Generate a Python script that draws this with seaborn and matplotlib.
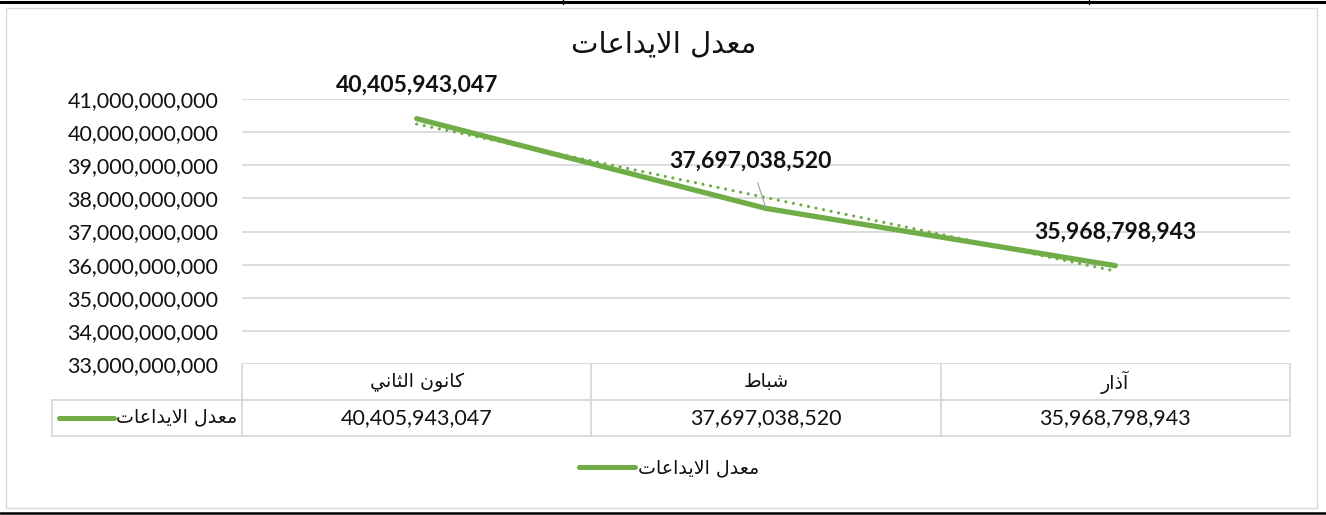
import numpy as np
import pandas as pd
import matplotlib
matplotlib.use("Agg")
import matplotlib.pyplot as plt
from matplotlib.lines import Line2D
from matplotlib.patches import Rectangle
from matplotlib.transforms import blended_transform_factory
from matplotlib.ticker import FuncFormatter
import seaborn as sns

# ---------------- data ----------------
months = ["كانون الثاني", "شباط", "آذار"]
deposits = [40405943047, 37697038520, 35968798943]
series_name = "معدل الايداعات"
chart_title = "معدل الايداعات"
y_ticks = [33e9, 34e9, 35e9, 36e9, 37e9, 38e9, 39e9, 40e9, 41e9]

# ------------- minimal Arabic shaping (matplotlib has no bidi/shaping) -------------
FORMS = {
    'ا': ('\uFE8D', '\uFE8E', None, None),
    'آ': ('\uFE81', '\uFE82', None, None),
    'ب': ('\uFE8F', '\uFE90', '\uFE91', '\uFE92'),
    'ت': ('\uFE95', '\uFE96', '\uFE97', '\uFE98'),
    'ث': ('\uFE99', '\uFE9A', '\uFE9B', '\uFE9C'),
    'د': ('\uFEA9', '\uFEAA', None, None),
    'ذ': ('\uFEAB', '\uFEAC', None, None),
    'ر': ('\uFEAD', '\uFEAE', None, None),
    'ش': ('\uFEB5', '\uFEB6', '\uFEB7', '\uFEB8'),
    'ط': ('\uFEC1', '\uFEC2', '\uFEC3', '\uFEC4'),
    'ع': ('\uFEC9', '\uFECA', '\uFECB', '\uFECC'),
    'ك': ('\uFED9', '\uFEDA', '\uFEDB', '\uFEDC'),
    'ل': ('\uFEDD', '\uFEDE', '\uFEDF', '\uFEE0'),
    'م': ('\uFEE1', '\uFEE2', '\uFEE3', '\uFEE4'),
    'ن': ('\uFEE5', '\uFEE6', '\uFEE7', '\uFEE8'),
    'و': ('\uFEED', '\uFEEE', None, None),
    'ي': ('\uFEF1', '\uFEF2', '\uFEF3', '\uFEF4'),
}
LAM_ALEF = {'ا': ('\uFEFB', '\uFEFC'), 'آ': ('\uFEF5', '\uFEF6')}


def dual(c):
    return c in FORMS and FORMS[c][2] is not None


def shape(text):
    out = []
    i = 0
    n = len(text)
    while i < n:
        c = text[i]
        if c not in FORMS:
            out.append(c)
            i += 1
            continue
        prev_joins = i > 0 and dual(text[i - 1])
        if c == 'ل' and i + 1 < n and text[i + 1] in LAM_ALEF:
            iso, fin = LAM_ALEF[text[i + 1]]
            out.append(fin if prev_joins else iso)
            i += 2
            continue
        next_joins = dual(c) and i + 1 < n and text[i + 1] in FORMS
        iso, fin, ini, med = FORMS[c]
        if prev_joins and next_joins:
            out.append(med)
        elif prev_joins:
            out.append(fin)
        elif next_joins:
            out.append(ini)
        else:
            out.append(iso)
        i += 1
    return ''.join(reversed(out))


# ---------------- figure ----------------
W, H = 1326, 515
sns.set_theme(style="white")
plt.rcParams['font.family'] = ['Lato', 'DejaVu Sans']
AR = ['DejaVu Sans']
GREEN = '#70AD47'
GRID = '#D9D9D9'
TXT = '#111111'
AR_SIZE = 13.7

fig = plt.figure(figsize=(W / 100, H / 100), dpi=100)
fig.patch.set_facecolor('white')


def fx(px):
    return px / W


def fy(py):
    return 1 - py / H


# outer sheet borders / chart area border
fig.add_artist(Line2D([0, 1], [fy(1.5), fy(1.5)], color='black', lw=2.2))
fig.add_artist(Line2D([0, 1], [fy(513), fy(513)], color='black', lw=1.8))
for xv in (563, 1089):
    fig.add_artist(Line2D([fx(xv), fx(xv)], [fy(0), fy(4)], color='black', lw=1.0))
fig.add_artist(Rectangle((fx(6), fy(508)), fx(1317) - fx(6), fy(8) - fy(508),
                         transform=fig.transFigure, fill=False, ec=GRID, lw=1.0))

# plot area
top_px, bot_px, left_px, right_px = 99, 364, 242, 1290
ax = fig.add_axes([fx(left_px), fy(bot_px), fx(right_px - left_px), (bot_px - top_px) / H])
ax.set_facecolor('none')

df = pd.DataFrame({"pos": np.arange(len(months)), "value": deposits})
sns.lineplot(data=df, x="pos", y="value", color=GREEN, lw=3.8, ax=ax,
             solid_capstyle='round', solid_joinstyle='round', zorder=3)
coef = np.polyfit(df["pos"], df["value"], 1)
trend = np.polyval(coef, df["pos"])
ax.plot(df["pos"], trend, color=GREEN, lw=2.3, ls=(0, (0.01, 2.4)),
        dash_capstyle='round', zorder=4)

ax.set_xlim(-0.5, len(months) - 0.5)
ax.set_ylim(y_ticks[0], y_ticks[-1])
ax.set_yticks(y_ticks)
ax.yaxis.set_major_formatter(FuncFormatter(lambda v, p: f"{v:,.0f}"))
ax.set_xticks([])
ax.set_xlabel('')
ax.set_ylabel('')
ax.tick_params(axis='y', length=0, pad=17, labelsize=15.5, labelcolor=TXT)
ax.yaxis.grid(True, color=GRID, lw=1.3)
ax.set_axisbelow(True)
for s in ax.spines.values():
    s.set_visible(False)

# data labels
offsets = [(0, 24), (-11, 34), (0, 24)]
for (xp, v), off in zip(zip(df["pos"], df["value"]), offsets):
    arrow = None
    if off[0] != 0:
        arrow = dict(arrowstyle='-', color='#A6A6A6', lw=0.9, shrinkA=6, shrinkB=0)
    ax.annotate(f"{v:,.0f}", xy=(xp, v), xytext=off, textcoords='offset points',
                ha='center', va='center', fontsize=16.5, fontweight='bold',
                color=TXT, arrowprops=arrow, zorder=5)

# data table below the axis
bt = blended_transform_factory(ax.transData, ax.transAxes)
ppx = bot_px - top_px
row1_bot = -(400 - bot_px) / ppx
row2_bot = -(436 - bot_px) / ppx
for xb in np.arange(len(months) + 1) - 0.5:
    ax.plot([xb, xb], [0, row2_bot], transform=bt, color=GRID, lw=1.3, clip_on=False)
ax.plot([-0.5, len(months) - 0.5], [row1_bot, row1_bot], transform=bt, color=GRID, lw=1.3, clip_on=False)
ax.plot([-0.5, len(months) - 0.5], [row2_bot, row2_bot], transform=bt, color=GRID, lw=1.3, clip_on=False)
# legend cell
fig.add_artist(Line2D([fx(52), fx(left_px)], [fy(400), fy(400)], color=GRID, lw=1.3))
fig.add_artist(Line2D([fx(52), fx(left_px)], [fy(436), fy(436)], color=GRID, lw=1.3))
fig.add_artist(Line2D([fx(52), fx(52)], [fy(400), fy(436)], color=GRID, lw=1.3))
fig.add_artist(Line2D([fx(59), fx(114)], [fy(418), fy(418)], color=GREEN, lw=3.6,
                      solid_capstyle='round'))
fig.text(fx(237), fy(417), shape(series_name), ha='right', va='center',
         fontsize=AR_SIZE, family=AR, color=TXT)

r1 = -(382 - bot_px) / ppx
r2 = -(418 - bot_px) / ppx
for xp, m, v in zip(df["pos"], months, df["value"]):
    ax.text(xp, r1, shape(m), transform=bt, ha='center', va='center',
            fontsize=AR_SIZE, family=AR, color=TXT)
    ax.text(xp, r2, f"{v:,.0f}", transform=bt, ha='center', va='center',
            fontsize=15.5, color=TXT)

# title
fig.text(fx(664), fy(44), shape(chart_title), ha='center', va='center',
         fontsize=21, family=AR, color=TXT)

# legend
handle = Line2D([], [], color=GREEN, lw=3.6, solid_capstyle='round')
leg = fig.legend([handle], [shape(series_name)], loc='center',
                 bbox_to_anchor=(fx(669), fy(468)), frameon=False,
                 handlelength=2.95, handletextpad=0.15,
                 prop={'family': AR, 'size': AR_SIZE})
for t in leg.get_texts():
    t.set_color(TXT)

fig.savefig("out.png", dpi=100, facecolor='white')
